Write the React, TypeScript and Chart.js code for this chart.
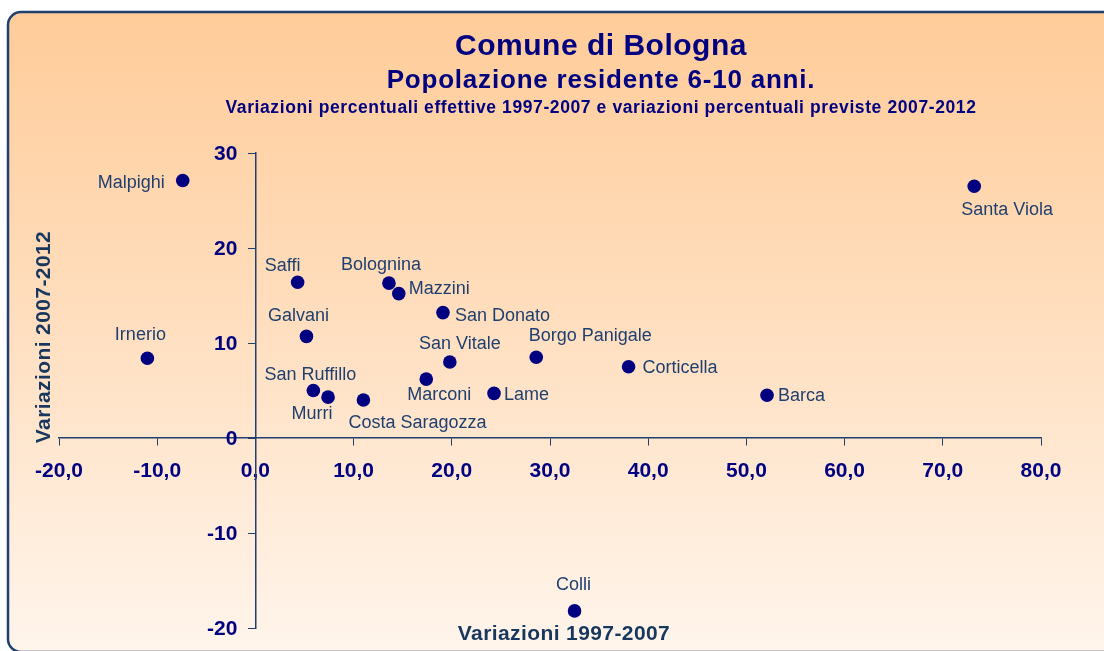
import React, { useEffect, useRef } from 'react';
import { Chart, registerables } from 'chart.js';

Chart.register(...registerables);

// ---- Data ----
const zoneNames = [
  'Malpighi', 'Santa Viola', 'Saffi', 'Bolognina', 'Mazzini', 'San Donato',
  'Galvani', 'Irnerio', 'San Vitale', 'Borgo Panigale', 'Corticella', 'San Ruffillo',
  'Murri', 'Costa Saragozza', 'Marconi', 'Lame', 'Barca', 'Colli',
];
// x: Variazioni 1997-2007 (%)
const change1997_2007 = [
  -7.4, 73.2, 4.3, 13.6, 14.6, 19.1,
  5.2, -11.0, 19.8, 28.6, 38.0, 5.9,
  7.4, 11.0, 17.4, 24.3, 52.1, 32.5,
];
// y: Variazioni 2007-2012 (%)
const change2007_2012 = [
  27.1, 26.5, 16.4, 16.3, 15.2, 13.2,
  10.7, 8.4, 8.0, 8.5, 7.5, 5.0,
  4.3, 4.0, 6.2, 4.7, 4.5, -18.2,
];
const xTickValues = [-20, -10, 0, 10, 20, 30, 40, 50, 60, 70, 80];
const yTickValues = [-20, -10, 0, 10, 20, 30];

const titleLines = [
  'Comune di Bologna',
  'Popolazione residente 6-10 anni.',
  'Variazioni percentuali effettive 1997-2007 e variazioni percentuali previste 2007-2012',
];
const xAxisTitle = 'Variazioni 1997-2007';
const yAxisTitle = 'Variazioni 2007-2012';

// ---- Styling ----
const FONT = '"Liberation Sans", Arial, Helvetica, sans-serif';
const NAVY = '#000080';
const AXIS_COLOR = '#1F3F6F';
const AXIS_TITLE_COLOR = '#17375E';
const LABEL_COLOR = '#1F3F6F';
const TICK_FONT_SIZE = 21;

// label placement relative to each dot: [textAlign, dx, baseline dy]
const labelPlacement: Record<string, [CanvasTextAlign, number, number]> = {
  'Malpighi': ['right', -18, 7],
  'Santa Viola': ['left', -13, 29],
  'Saffi': ['center', -15, -11],
  'Bolognina': ['center', -8, -13],
  'Mazzini': ['left', 10, 0],
  'San Donato': ['left', 12, 8],
  'Galvani': ['center', -8, -15],
  'Irnerio': ['center', -7, -18],
  'San Vitale': ['center', 10, -13],
  'Borgo Panigale': ['center', 54, -16],
  'Corticella': ['left', 14, 6],
  'San Ruffillo': ['center', -3, -11],
  'Murri': ['center', -16, 22],
  'Costa Saragozza': ['center', 54, 28],
  'Marconi': ['center', 13, 21],
  'Lame': ['left', 10, 7],
  'Barca': ['left', 11, 6],
  'Colli': ['center', -1, -21],
};

const backgroundPlugin = {
  id: 'panelBackground',
  beforeDraw(chart: any) {
    const ctx: CanvasRenderingContext2D = chart.ctx;
    const x = 8, y = 12, w = 1200, h = 640, r = 13;
    ctx.save();
    const g = ctx.createLinearGradient(0, y, 0, y + h);
    g.addColorStop(0, '#FFCC99');
    g.addColorStop(0.45, '#FFDDBC');
    g.addColorStop(1, '#FFF5EC');
    ctx.beginPath();
    ctx.moveTo(x + r, y);
    ctx.lineTo(x + w - r, y);
    ctx.arcTo(x + w, y, x + w, y + r, r);
    ctx.lineTo(x + w, y + h - r);
    ctx.arcTo(x + w, y + h, x + w - r, y + h, r);
    ctx.lineTo(x + r, y + h);
    ctx.arcTo(x, y + h, x, y + h - r, r);
    ctx.lineTo(x, y + r);
    ctx.arcTo(x, y, x + r, y, r);
    ctx.closePath();
    ctx.fillStyle = g;
    ctx.fill();
    ctx.lineWidth = 2.5;
    ctx.strokeStyle = AXIS_COLOR;
    ctx.stroke();
    ctx.restore();
  },
};

const textPlugin = {
  id: 'textOverlay',
  afterDatasetsDraw(chart: any) {
    const ctx: CanvasRenderingContext2D = chart.ctx;
    const meta = chart.getDatasetMeta(0);
    ctx.save();
    ctx.font = `18px ${FONT}`;
    ctx.fillStyle = LABEL_COLOR;
    ctx.textBaseline = 'alphabetic';
    zoneNames.forEach((name, i) => {
      const pt = meta.data[i];
      if (!pt) return;
      const [align, dx, dy] = labelPlacement[name] || ['left', 10, 6];
      ctx.textAlign = align;
      ctx.fillText(name, pt.x + dx, pt.y + dy);
    });
    ctx.restore();
  },
  afterDraw(chart: any) {
    const ctx: CanvasRenderingContext2D = chart.ctx;
    const xs = chart.scales.x;
    const ys = chart.scales.y;
    ctx.save();

    // y tick labels, right-aligned left of the y axis (which sits at x = 0)
    const axisX = xs.getPixelForValue(0);
    ctx.fillStyle = NAVY;
    ctx.font = `bold ${TICK_FONT_SIZE}px ${FONT}`;
    ctx.textAlign = 'right';
    ctx.textBaseline = 'middle';
    yTickValues.forEach((v) => {
      ctx.fillText(String(v), axisX - 18, ys.getPixelForValue(v) + 1);
    });

    // titles
    ctx.textAlign = 'center';
    ctx.textBaseline = 'alphabetic';
    (ctx as any).letterSpacing = '0.5px';
    ctx.font = `bold 30px ${FONT}`;
    ctx.fillText(titleLines[0], 601, 55);
    (ctx as any).letterSpacing = '0.8px';
    ctx.font = `bold 26px ${FONT}`;
    ctx.fillText(titleLines[1], 601, 88);
    (ctx as any).letterSpacing = '0.6px';
    ctx.font = `bold 17.5px ${FONT}`;
    ctx.fillText(titleLines[2], 601, 113);

    // axis titles
    ctx.fillStyle = AXIS_TITLE_COLOR;
    (ctx as any).letterSpacing = '0.4px';
    ctx.font = `bold 21px ${FONT}`;
    ctx.fillText(xAxisTitle, 564, 640);
    ctx.translate(50, 337);
    ctx.rotate(-Math.PI / 2);
    ctx.fillText(yAxisTitle, 0, 0);
    ctx.restore();
  },
};

export default function App() {
  const canvasRef = useRef<HTMLCanvasElement | null>(null);

  useEffect(() => {
    const canvas = canvasRef.current;
    if (!canvas) return;
    Chart.defaults.font.family = FONT;

    const points = zoneNames.map((_, i) => ({ x: change1997_2007[i], y: change2007_2012[i] }));

    const tickFont = { family: FONT, size: TICK_FONT_SIZE, weight: 'bold' as const };

    const chart = new Chart(canvas, {
      type: 'scatter',
      data: {
        datasets: [
          {
            label: 'Quartieri',
            data: points,
            pointRadius: 6.8,
            pointHoverRadius: 6.8,
            pointBackgroundColor: NAVY,
            pointBorderWidth: 0,
            pointBorderColor: NAVY,
            showLine: false,
          },
        ],
      },
      options: {
        responsive: false,
        maintainAspectRatio: false,
        animation: false,
        devicePixelRatio: 1,
        layout: { padding: { left: 59, right: 63, top: 153, bottom: 23 } },
        plugins: {
          legend: { display: false },
          tooltip: { enabled: false },
          title: { display: false },
        },
        events: [],
        scales: {
          x: {
            type: 'linear',
            min: -20,
            max: 80,
            position: { y: 0 } as any,
            afterBuildTicks: (axis: any) => {
              axis.ticks = xTickValues.map((v) => ({ value: v }));
            },
            ticks: {
              color: NAVY,
              font: tickFont,
              padding: 14,
              maxRotation: 0,
              autoSkip: false,
              callback: (v: any) => Number(v).toFixed(1).replace('.', ','),
            },
            grid: {
              drawOnChartArea: false,
              drawTicks: true,
              tickLength: 7,
              color: AXIS_COLOR,
              lineWidth: 1,
            },
            border: { display: true, color: AXIS_COLOR, width: 1.5 },
          },
          y: {
            type: 'linear',
            min: -20,
            max: 30,
            position: { x: 0 } as any,
            afterBuildTicks: (axis: any) => {
              axis.ticks = yTickValues.map((v) => ({ value: v }));
            },
            ticks: {
              display: false,
              autoSkip: false,
            },
            grid: {
              drawOnChartArea: false,
              drawTicks: true,
              tickLength: 7,
              color: AXIS_COLOR,
              lineWidth: 1,
            },
            border: { display: true, color: AXIS_COLOR, width: 1.5 },
          },
        },
      },
      plugins: [backgroundPlugin, textPlugin],
    });

    return () => {
      chart.destroy();
    };
  }, []);

  return (
    <div style={{ position: 'fixed', left: 0, top: 0, width: 1104, height: 651, background: '#ffffff' }}>
      <canvas ref={canvasRef} width={1104} height={651} style={{ display: 'block', width: 1104, height: 651 }} />
    </div>
  );
}
